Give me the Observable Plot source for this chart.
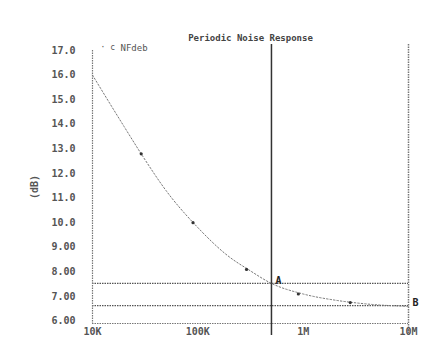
<!DOCTYPE html>
<html>
<head>
<meta charset="utf-8">
<script src="https://cdn.jsdelivr.net/npm/d3@7"></script>
<script src="https://cdn.jsdelivr.net/npm/@observablehq/plot@0.6"></script>
<style>
  html, body { margin: 0; padding: 0; background: #fff; }
  #chart svg { display: block; }
</style>
</head>
<body>
<div id="chart"></div>
<script>
// Noise figure curve (frequency in Hz, NF in dB)
const freqs = [1e4, 2e4, 3e4, 5e4, 1e5, 2e5, 3e5, 5e5, 1e6, 2e6, 3e6, 5e6, 1e7];
const nf    = [16.0, 13.9, 12.7, 11.3, 9.8, 8.6, 8.1, 7.53, 7.1, 6.85, 6.75, 6.66, 6.6];
// symbols drawn along the curve
const symFreqs  = [2.9e4, 9e4, 2.9e5, 9e5, 2.8e6];
const symValues = [12.8, 10.0, 8.1, 7.1, 6.75];
// markers
const markerNames  = ["A", "B"];
const markerFreqs  = [5e5, 1e7];
const markerValues = [7.53, 6.63];
// axis ticks
const yTicks = [6, 7, 8, 9, 10, 11, 12, 13, 14, 15, 16, 17];
const xTicks = [1e4, 1e5, 1e6, 1e7];
const xTickLabels = ["10K", "100K", "1M", "10M"];
const title = "Periodic Noise Response";
const seriesName = "NFdeb";

const curve = freqs.map((f, i) => ({f, v: nf[i]}));
const syms = symFreqs.map((f, i) => ({f, v: symValues[i]}));
const markers = markerNames.map((n, i) => ({n, f: markerFreqs[i], v: markerValues[i]}));
const xLabelOf = new Map(xTicks.map((t, i) => [t, xTickLabels[i]]));

const font = "DejaVu Sans Mono, monospace";
const grey = "#555";

const plot = Plot.plot({
  width: 430,
  height: 338,
  marginLeft: 92,
  marginRight: 22,
  marginTop: 50,
  marginBottom: 15,
  style: {fontFamily: font, fontSize: "10px", color: grey, background: "#fff"},
  x: {type: "log", domain: [1e4, 1e7]},
  y: {domain: [5.9, 17.0]},
  marks: [
    // horizontal marker lines
    Plot.ruleY([markerValues[0]], {stroke: "#555", strokeDasharray: "1.5,1", strokeWidth: 1.2}),
    Plot.ruleY([markerValues[1]], {stroke: "#555", strokeDasharray: "1.5,1", strokeWidth: 1.2}),
    // vertical lines
    Plot.ruleX([markerFreqs[0]], {stroke: "#333", strokeWidth: 1.5, insetTop: -6, insetBottom: -12}),
    Plot.ruleX([markerFreqs[1]], {stroke: "#777", strokeDasharray: "1.5,1", strokeWidth: 1.5, insetTop: -6, insetBottom: -12}),
    // frame: left & bottom axis lines
    Plot.ruleX([1e4], {stroke: "#777", strokeDasharray: "1.5,1", strokeWidth: 1.2}),
    Plot.ruleY([5.9], {stroke: "#777", strokeDasharray: "1.5,1", strokeWidth: 1.2}),
    // the curve
    Plot.line(curve, {x: "f", y: "v", curve: "monotone-x", stroke: "#777", strokeDasharray: "1.5,2", strokeWidth: 1}),
    Plot.dot(syms, {x: "f", y: "v", r: 1.6, fill: "#333", stroke: "none"}),
    // marker labels
    Plot.text(markers, {x: "f", y: "v", text: "n", dx: 7, dy: -3, fontWeight: "bold", fontSize: 10, fill: "#222"}),
    // axes
    Plot.axisY(yTicks, {tickSize: 0, tickPadding: 17, fontWeight: "bold", tickFormat: d => d >= 10 ? d.toFixed(1) : d.toFixed(2), fill: grey, label: "(dB)", labelAnchor: "center", labelOffset: 62, labelArrow: "none"}),
    Plot.axisX(xTicks, {tickSize: 0, tickPadding: 4, fontWeight: "bold", tickFormat: d => xLabelOf.get(d), fill: grey, label: null}),
    // title & legend
    Plot.text([title], {frameAnchor: "top", dy: -16, fill: "#444", fontWeight: "bold", fontSize: 9}),
    Plot.text(["\u00b7 c"], {frameAnchor: "top-left", dx: 8, dy: -6, fill: grey, fontSize: 8}),
    Plot.text([seriesName], {frameAnchor: "top-left", dx: 28, dy: -6, fill: grey, fontSize: 9})
  ]
});
document.getElementById("chart").appendChild(plot);
</script>
</body>
</html>
